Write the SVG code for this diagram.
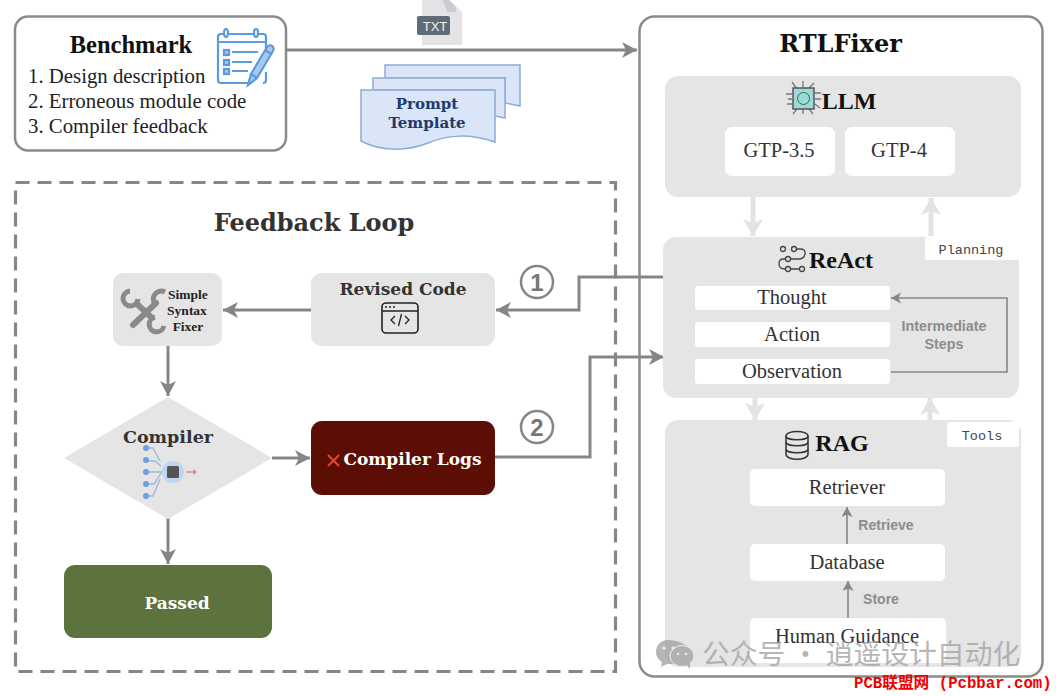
<svg xmlns="http://www.w3.org/2000/svg" width="1056" height="696" viewBox="0 0 1056 696">
<style>
text{font-family:"Liberation Serif",serif;fill:#222}
.t{font-size:20.5px;fill:#333;text-anchor:middle}
.h{font-size:24px;font-weight:bold;fill:#111;font-family:"DejaVu Serif","Liberation Serif",serif}
.g{font-family:"DejaVu Serif","Liberation Serif",serif;font-weight:bold;fill:#333;text-anchor:middle}
.s{font-family:"Liberation Sans",Arial,sans-serif;font-weight:bold;font-size:14px;fill:#8c8c8c;text-anchor:middle}
.m{font-family:"Liberation Mono",monospace;font-size:13.5px;fill:#444;text-anchor:middle}
.w{fill:#fff}
.p{fill:#e5e5e5}
.c{fill:none;stroke:#868686;stroke-width:3}
.c2{fill:none;stroke:#868686;stroke-width:1.6}
.l{fill:none;stroke:#e3e3e3;stroke-width:5}
.i{fill:none;stroke:#5b9bdc;stroke-width:2.2}
</style>
<defs>
<marker id="a" markerUnits="userSpaceOnUse" markerWidth="18" markerHeight="18" refX="15" refY="8" orient="auto"><path d="M0 0L15 8L0 16L4 8Z" fill="#868686"/></marker>
<marker id="b" markerUnits="userSpaceOnUse" markerWidth="14" markerHeight="14" refX="10" refY="5.5" orient="auto"><path d="M0 0L10 5.5L0 11L2.5 5.5Z" fill="#868686"/></marker>
<marker id="d" markerUnits="userSpaceOnUse" markerWidth="22" markerHeight="22" refX="17" refY="10" orient="auto"><path d="M0 0L17 10L0 20L4 10Z" fill="#e3e3e3"/></marker>
</defs>

<g id="rtlfixer"><rect x="639.500" y="16.500" width="403" height="660" rx="15" fill="#fff" stroke="#8a8a8a" stroke-width="2.500"/><text x="840.500" y="52" class="h" text-anchor="middle">RTLFixer</text></g>
<g id="feedback-loop"><rect x="15.500" y="182.500" width="600" height="489" fill="none" stroke="#868686" stroke-width="3.200" stroke-dasharray="14 8"/><text x="314" y="231" class="g" font-size="24">Feedback Loop</text></g>

<g id="benchmark">
<rect x="15" y="16.500" width="271" height="134" rx="13" fill="#fff" stroke="#8a8a8a" stroke-width="2.500"/>
<text x="131" y="53" font-size="24.500" font-weight="bold" text-anchor="middle" style="fill:#111">Benchmark</text>
<text x="28" y="83" font-size="20.800">1. Design description</text>
<text x="28" y="108" font-size="20.800">2. Erroneous module code</text>
<text x="28" y="133" font-size="20.800">3. Compiler feedback</text>
<g class="i">
<path d="M250 83H221a3 3 0 0 1-3-3V37a3 3 0 0 1 3-3H263a3 3 0 0 1 3 3V52"/><path d="M218 42H266"/>
<rect x="224" y="50" width="5" height="5" fill="#a9c9ee"/><rect x="224" y="60" width="5" height="5" fill="#a9c9ee"/><rect x="224" y="69" width="5" height="5" fill="#a9c9ee"/>
<path d="M232 52H258M232 62H252M232 71H248"/><path d="M266 72V80a3 3 0 0 1-3 3"/>
<ellipse cx="226" cy="33" rx="2" ry="4" fill="#fff"/><ellipse cx="256" cy="33" rx="2" ry="4" fill="#fff"/>
<path d="M248 85L251 74L267 47a3.500 3.500 0 0 1 6 4L257 78Z" fill="#a9c9ee"/><path d="M251 74L257 78M265 50L271 54"/>
</g>
</g>

<g id="txt-file">
<path d="M422 0H449L462 12V45H422Z" fill="#e4e4e6"/><path d="M443 0H449L456 7V12H447Z" fill="#c9ccd0"/>
<rect x="417" y="16" width="33" height="19" rx="2" fill="#5e6b78"/>
<text x="435" y="31" font-size="13" text-anchor="middle" style="font-family:'Liberation Sans',sans-serif;fill:#f2f2f2">TXT</text>
</g>

<g id="prompt-template" fill="#dae5f7" stroke="#8eaad8" stroke-width="1.500">
<path d="M385 65H520V106L505 103V78H385Z"/>
<path d="M373 78H505V118L490 115V90H373Z"/>
<path d="M361 90H495V142C470 134 450 134 428 143C405 152 380 151 361 141Z"/>
<text x="427" y="109" font-size="15" stroke="none" class="g" style="fill:#1d3a6e">Prompt</text>
<text x="427" y="128" font-size="15" stroke="none" class="g" style="fill:#1d3a6e">Template</text>
</g>

<g id="llm-panel">
<rect x="665" y="76" width="356" height="121" rx="13" class="p"/>
<text x="849" y="109" text-anchor="middle" style="font-size:24px;font-weight:bold;fill:#111">LLM</text>
<g stroke="#777" stroke-width="1.300" fill="none"><path d="M797 89L792 82M803 88V81M809 88L814 83M815 93H821M815 99H821M815 104L820 108M809 109L813 114M803 109V114M797 109L793 114M792 104H787M792 99H788M792 94H786"/></g>
<rect x="793" y="88" width="21" height="21" fill="#9adcd8" stroke="#555" stroke-width="1.500"/><circle cx="803.500" cy="98.500" r="6" fill="none" stroke="#555"/>
<rect x="725" y="127" width="110" height="49" rx="7" class="w"/><text x="779" y="157" class="t">GTP-3.5</text>
<rect x="845" y="127" width="110" height="49" rx="7" class="w"/><text x="899" y="157" class="t">GTP-4</text>
</g>

<g id="connectors">
<path class="c" marker-end="url(#a)" d="M287 50H637"/>
<path class="c" marker-end="url(#a)" d="M664 277H579V310H496"/>
<path class="c" marker-end="url(#a)" d="M311 310H223"/>
<path class="c" marker-end="url(#a)" d="M168 346V396"/>
<path class="c" marker-end="url(#a)" d="M272 458H310"/>
<path class="c" marker-end="url(#a)" d="M168 518V564"/>
<path class="c" marker-end="url(#a)" d="M494 457H590V357H664"/>
<path class="l" marker-end="url(#d)" d="M753 197V236"/>
<path class="l" marker-end="url(#d)" d="M931 236V198"/>
<path class="l" marker-end="url(#d)" d="M755 397V420"/>
<path class="l" marker-end="url(#d)" d="M930 420V398"/>
</g>

<g id="react-panel">
<rect x="663" y="237" width="356" height="161" rx="13" class="p"/>
<rect x="925" y="237" width="95" height="23" rx="2" fill="#fff"/>
<text x="971" y="254" class="m">Planning</text>
<text x="841" y="268" text-anchor="middle" style="font-size:24px;font-weight:bold;fill:#111">ReAct</text>
<g fill="none" stroke="#444" stroke-width="1.300"><circle cx="783" cy="249" r="2.500"/><circle cx="794" cy="249" r="2.500"/><circle cx="788" cy="259" r="2.500"/><circle cx="788" cy="269" r="2.500"/><circle cx="802" cy="269" r="2.500"/><path d="M797 249H800Q806 249 805 254Q804 259 798 259H791M785 259H783Q779 259 779 264Q779 269 785 269M791 269H799"/></g>
<rect x="695" y="286" width="195" height="24" rx="3" class="w"/><text x="792" y="304" class="t">Thought</text>
<rect x="695" y="322" width="195" height="25" rx="3" class="w"/><text x="792" y="341" class="t">Action</text>
<rect x="695" y="359" width="195" height="25" rx="3" class="w"/><text x="792" y="378" class="t">Observation</text>
<path class="c2" marker-end="url(#b)" d="M891 372H1007V298H891"/>
<text x="944" y="331" class="s" style="font-size:14.300px">Intermediate</text><text x="944" y="349" class="s" style="font-size:14.300px">Steps</text>
</g>

<g id="rag-panel">
<rect x="665" y="420" width="356" height="247" rx="13" class="p"/>
<rect x="947" y="422" width="72" height="25" rx="2" fill="#fff"/>
<text x="982" y="440" class="m">Tools</text>
<text x="842" y="451" text-anchor="middle" style="font-size:24px;font-weight:bold;fill:#111">RAG</text>
<g fill="#e5e5e5" stroke="#333" stroke-width="1.500"><path d="M786 436C786 430 808 430 808 436V454C808 461 786 461 786 454Z"/><path d="M786 436C786 441 808 441 808 436M786 442C786 447 808 447 808 442M786 449C786 454 808 454 808 449" fill="none"/></g>
<rect x="750" y="469" width="195" height="37" rx="5" class="w"/><text x="847" y="494" class="t">Retriever</text>
<rect x="750" y="544" width="195" height="37" rx="5" class="w"/><text x="847" y="569" class="t">Database</text>
<rect x="750" y="618" width="196" height="45" rx="5" class="w"/><text x="847" y="643" class="t">Human Guidance</text>
<path class="c2" marker-end="url(#b)" d="M847 544V507"/><path class="c2" marker-end="url(#b)" d="M848 618V581"/>
<text x="886" y="530" class="s">Retrieve</text><text x="881" y="604" class="s">Store</text>
</g>

<g id="badge-1"><circle cx="537" cy="282" r="16" fill="#fff" stroke="#868686" stroke-width="2.500"/><text x="537" y="291" font-size="24" font-weight="bold" text-anchor="middle" style="font-family:'Liberation Sans',sans-serif;fill:#777">1</text></g>
<g id="badge-2"><circle cx="537" cy="427" r="16" fill="#fff" stroke="#868686" stroke-width="2.500"/><text x="537" y="436" font-size="24" font-weight="bold" text-anchor="middle" style="font-family:'Liberation Sans',sans-serif;fill:#777">2</text></g>

<g id="revised-code">
<rect x="311" y="273" width="184" height="73" rx="11" class="p"/>
<text x="403" y="295" class="g" font-size="17">Revised Code</text>
<rect x="382" y="303" width="36" height="30" rx="4" fill="none" stroke="#222" stroke-width="1.600"/><path d="M382 311H418M395 316L391 320L395 324M405 316L409 320L405 324M401.500 314L398.500 326" fill="none" stroke="#222" stroke-width="1.300"/>
<circle cx="386" cy="307" r="1" fill="#222"/><circle cx="390" cy="307" r="1" fill="#222"/><circle cx="394" cy="307" r="1" fill="#222"/>
</g>

<g id="syntax-fixer">
<rect x="113" y="273" width="109" height="73" rx="10" class="p"/>
<g fill="none" stroke="#8a8a8a">
<path d="M137 304L152 318" stroke-width="6"/>
<path d="M156 303L133 325" stroke-width="6" stroke-linecap="round"/>
<path d="M130 291A7.500 7.500 0 1 0 138 299" stroke-width="5"/>
<path d="M164 326A7.500 7.500 0 1 1 155 317" stroke-width="5"/>
<path d="M165 292A8 8 0 0 0 155 304" stroke-width="5"/>
</g>
<g class="g" font-size="13.500"><text x="188" y="299">Simple</text><text x="187" y="315">Syntax</text><text x="188" y="331">Fixer</text></g>
</g>

<g id="compiler">
<path d="M168 397L272 458L168 519L64 458Z" class="p"/>
<text x="168" y="443" class="g" font-size="17.500">Compiler</text>
<g fill="none" stroke="#9db6d6" stroke-width="1.300"><path d="M147 448H153L160 461M146 461H155L161 466M147 472H163M146 484H154L161 473M147 496H153L160 479"/></g>
<g fill="#6b9fe6"><circle cx="146" cy="448" r="3"/><circle cx="146" cy="460" r="3"/><circle cx="146" cy="472" r="3"/><circle cx="146" cy="484" r="3"/><circle cx="146" cy="496" r="3"/></g>
<circle cx="173" cy="472" r="11" fill="#bcd7f5"/><rect x="167" y="466" width="12" height="12" rx="1.500" fill="#555"/>
<path d="M186 472H195" stroke="#e58a8a" stroke-width="1.500"/><path d="M193 469L197 472L193 475Z" fill="#e58a8a"/>
</g>

<g id="compiler-logs">
<rect x="311" y="421" width="184" height="74" rx="11" fill="#5c0e05"/>
<path d="M328 455L339 466M339 455L328 466" stroke="#e0492a" stroke-width="2"/>
<text x="412.500" y="465" class="g" font-size="17" style="fill:#fff">Compiler Logs</text>
</g>

<g id="passed"><rect x="64" y="565" width="208" height="73" rx="11" fill="#5c733e"/><text x="177" y="609" class="g" font-size="17" style="fill:#fff">Passed</text></g>

<g id="watermark" opacity=".8">
<path d="M668 640C660 640 656 646 656 652C656 657 659 660 662 662L661 667L667 664L674 664L690 650C688 644 676 640 668 640Z" fill="#a5a5a5"/>
<ellipse cx="682" cy="656" rx="12" ry="10.500" fill="#a5a5a5" stroke="#f4f4f4"/><path d="M686 664L690 669L690 663Z" fill="#a5a5a5"/>
<g fill="#eee"><circle cx="664" cy="648" r="1.600"/><circle cx="673" cy="648" r="1.600"/><circle cx="678" cy="654" r="1.300"/><circle cx="686" cy="654" r="1.300"/></g>
<text x="702" y="664" font-size="27.800" style="font-family:'Noto Sans CJK SC',sans-serif;fill:#a5a5a5">公众号 · 逍遥设计自动化</text>
</g>
<text id="site" x="854" y="688" font-size="15.700" font-weight="bold" style="font-family:'Liberation Mono','Noto Sans CJK SC',monospace;fill:#f00000">PCB联盟网 (Pcbbar.com)</text>
</svg>
